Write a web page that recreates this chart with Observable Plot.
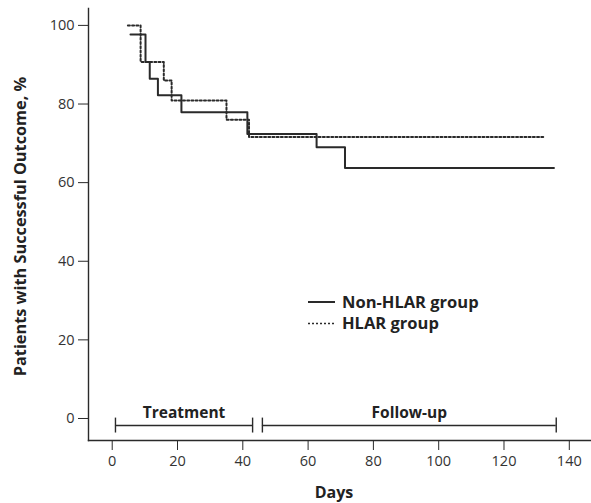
<!DOCTYPE html>
<html>
<head>
<meta charset="utf-8">
<script src="https://cdn.jsdelivr.net/npm/d3@7"></script>
<script src="https://cdn.jsdelivr.net/npm/@observablehq/plot@0.6"></script>
<style>
  html, body { margin: 0; padding: 0; background: #fff; }
  #wrap { position: relative; width: 591px; height: 503px; font-family: "Open Sans", sans-serif; }
  #legend { position: absolute; left: 306px; top: 290px; }
</style>
</head>
<body>
<div id="wrap"></div>
<script>
// Kaplan–Meier style step data
const nonHlarDays   = [5.6, 10.2, 11.5, 14.0, 21.2, 41.4, 62.6, 71.3, 135.3];
const nonHlarValues = [97.7, 90.7, 86.4, 82.2, 77.9, 72.4, 69.0, 63.7, 63.7];
const hlarDays      = [4.8, 8.7, 15.8, 18.2, 35.0, 41.9, 132.2];
const hlarValues    = [100, 90.7, 86.0, 80.9, 76.0, 71.6, 71.6];
const groupNames    = ["Non-HLAR group", "HLAR group"];
const phaseLabels   = ["Treatment", "Follow-up"];
const phaseStarts   = [1, 46];
const phaseEnds     = [43, 136];
const xTicks = [0, 20, 40, 60, 80, 100, 120, 140];
const yTicks = [0, 20, 40, 60, 80, 100];

const series = [
  ...nonHlarDays.map((d, i) => ({group: groupNames[0], day: d, value: nonHlarValues[i]})),
  ...hlarDays.map((d, i) => ({group: groupNames[1], day: d, value: hlarValues[i]}))
];
const phases = phaseLabels.map((l, i) => ({label: l, start: phaseStarts[i], end: phaseEnds[i], mid: (phaseStarts[i] + phaseEnds[i]) / 2}));
const caps = phases.flatMap(p => [p.start, p.end]);

const bracketY = -1.8, capH = 1.9;
const ink = "#2a2a2a";

const chart = Plot.plot({
  width: 591,
  height: 503,
  marginLeft: 88,
  marginRight: 0,
  marginTop: 8,
  marginBottom: 63,
  style: {fontFamily: "Open Sans, sans-serif", fontSize: "14.5px", color: "#333", background: "#fff"},
  x: {domain: [-7.26, 146.8]},
  y: {domain: [-5.6, 104.3]},
  marks: [
    Plot.frame({anchor: "left", stroke: ink, strokeWidth: 1.4}),
    Plot.frame({anchor: "bottom", stroke: ink, strokeWidth: 1.4}),
    Plot.axisX({ticks: xTicks, tickSize: 10, tickPadding: 5, label: null, stroke: ink, fill: "#333"}),
    Plot.axisY({ticks: yTicks, tickSize: 10, tickPadding: 4, label: null, stroke: ink, fill: "#333"}),
    Plot.line(series.filter(d => d.group === groupNames[1]), {
      x: "day", y: "value", curve: "step-after", stroke: ink, strokeWidth: 2, strokeDasharray: "2,2.2"
    }),
    Plot.line(series.filter(d => d.group === groupNames[0]), {
      x: "day", y: "value", curve: "step-after", stroke: ink, strokeWidth: 2
    }),
    Plot.ruleY(phases, {y: () => bracketY, x1: "start", x2: "end", stroke: ink, strokeWidth: 1.4}),
    Plot.ruleX(caps, {x: d => d, y1: bracketY - capH, y2: bracketY + capH, stroke: ink, strokeWidth: 1.4}),
    Plot.text(phases, {x: "mid", y: () => bracketY, text: "label", dy: -13, fontWeight: "bold", fontSize: 15.5, fill: "#222"}),
    Plot.text(["Days"], {frameAnchor: "bottom", dy: 57, fontWeight: "bold", fontSize: 16, fill: "#222", dx: -6}),
    Plot.text(["Patients with Successful Outcome, %"], {frameAnchor: "left", textAnchor: "middle", rotate: -90, dx: -68, dy: 2, fontWeight: "bold", fontSize: 16.3, fill: "#222"})
  ]
});

const wrap = document.getElementById("wrap");
wrap.appendChild(chart);

// Legend
const NS = "http://www.w3.org/2000/svg";
const leg = document.createElementNS(NS, "svg");
leg.setAttribute("id", "legend");
leg.setAttribute("width", 200);
leg.setAttribute("height", 50);
const rows = [{name: groupNames[0], dash: null}, {name: groupNames[1], dash: "2,2"}];
rows.forEach((r, i) => {
  const y = 12 + i * 21.5;
  const line = document.createElementNS(NS, "line");
  line.setAttribute("x1", 2); line.setAttribute("x2", 29);
  line.setAttribute("y1", y); line.setAttribute("y2", y);
  line.setAttribute("stroke", ink);
  line.setAttribute("stroke-width", r.dash ? 1.6 : 2);
  if (r.dash) line.setAttribute("stroke-dasharray", r.dash);
  leg.appendChild(line);
  const t = document.createElementNS(NS, "text");
  t.setAttribute("x", 36); t.setAttribute("y", y);
  t.setAttribute("dy", "0.36em");
  t.setAttribute("font-family", "Open Sans, sans-serif");
  t.setAttribute("font-size", 16.5);
  t.setAttribute("font-weight", "bold");
  t.setAttribute("fill", "#222");
  t.textContent = r.name;
  leg.appendChild(t);
});
wrap.appendChild(leg);
</script>
</body>
</html>
